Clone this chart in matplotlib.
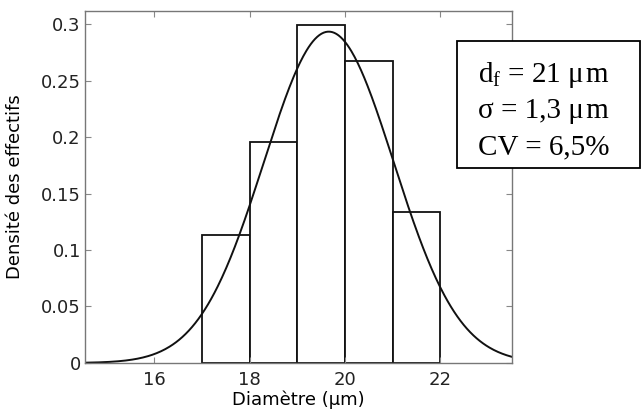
import numpy as np
import matplotlib.pyplot as plt
from matplotlib.patches import Rectangle

# histogram bins (µm) and density values
bin_left = [17, 18, 19, 20, 21]
bin_width = 1.0
density = [0.113, 0.196, 0.299, 0.267, 0.134]

# fitted normal curve parameters (as drawn)
mu = 19.66
sigma = 1.36

x_ticks = [16, 18, 20, 22]
y_ticks = [0, 0.05, 0.1, 0.15, 0.2, 0.25, 0.3]
y_ticklabels = ['0', '0.05', '0.1', '0.15', '0.2', '0.25', '0.3']
box_lines = ['d$_\\mathrm{f}$ = 21 μ\u200am', 'σ = 1,3 μ\u200am', 'CV = 6,5%']

plt.rcParams['font.family'] = ['DejaVu Sans']
plt.rcParams['mathtext.fontset'] = 'custom'
plt.rcParams['mathtext.rm'] = 'Liberation Serif'

fig = plt.figure(figsize=(6.42, 4.12), dpi=100)
ax = fig.add_axes([0.1324, 0.119, 0.665, 0.854])

ax.bar(bin_left, density, width=bin_width, align='edge',
       facecolor='white', edgecolor='#111111', linewidth=1.3)

xs = np.linspace(14.55, 23.5, 400)
pdf = np.exp(-0.5 * ((xs - mu) / sigma) ** 2) / (sigma * np.sqrt(2 * np.pi))
ax.plot(xs, pdf, color='#111111', linewidth=1.4)

ax.set_xlim(14.55, 23.5)
ax.set_ylim(0, 0.3115)
ax.set_xticks(x_ticks)
ax.set_yticks(y_ticks)
ax.set_yticklabels(y_ticklabels)
ax.tick_params(direction='in', length=4, width=0.8, top=True, right=True,
               labelsize=13, colors='#222222', color='#888888')
ax.tick_params(axis='y', pad=3)
ax.tick_params(axis='x', pad=6)
for s in ax.spines.values():
    s.set_color('#777777')
    s.set_linewidth(1.0)

ax.set_xlabel('Diamètre (μm)', fontsize=13, labelpad=1)
ax.set_ylabel('Densité des effectifs', fontsize=13, labelpad=12)

# annotation box
fig.patches.append(Rectangle((457 / 642, 1 - 168 / 412), 183 / 642, 127 / 412,
                             transform=fig.transFigure, facecolor='white',
                             edgecolor='black', linewidth=1.3, zorder=5))
for i, t in enumerate(box_lines):
    fig.text(478 / 642, 1 - (82 + 36 * i) / 412, t, family='Liberation Serif',
             fontsize=21, va='baseline', ha='left', zorder=6)

fig.savefig('out.png', dpi=100)
